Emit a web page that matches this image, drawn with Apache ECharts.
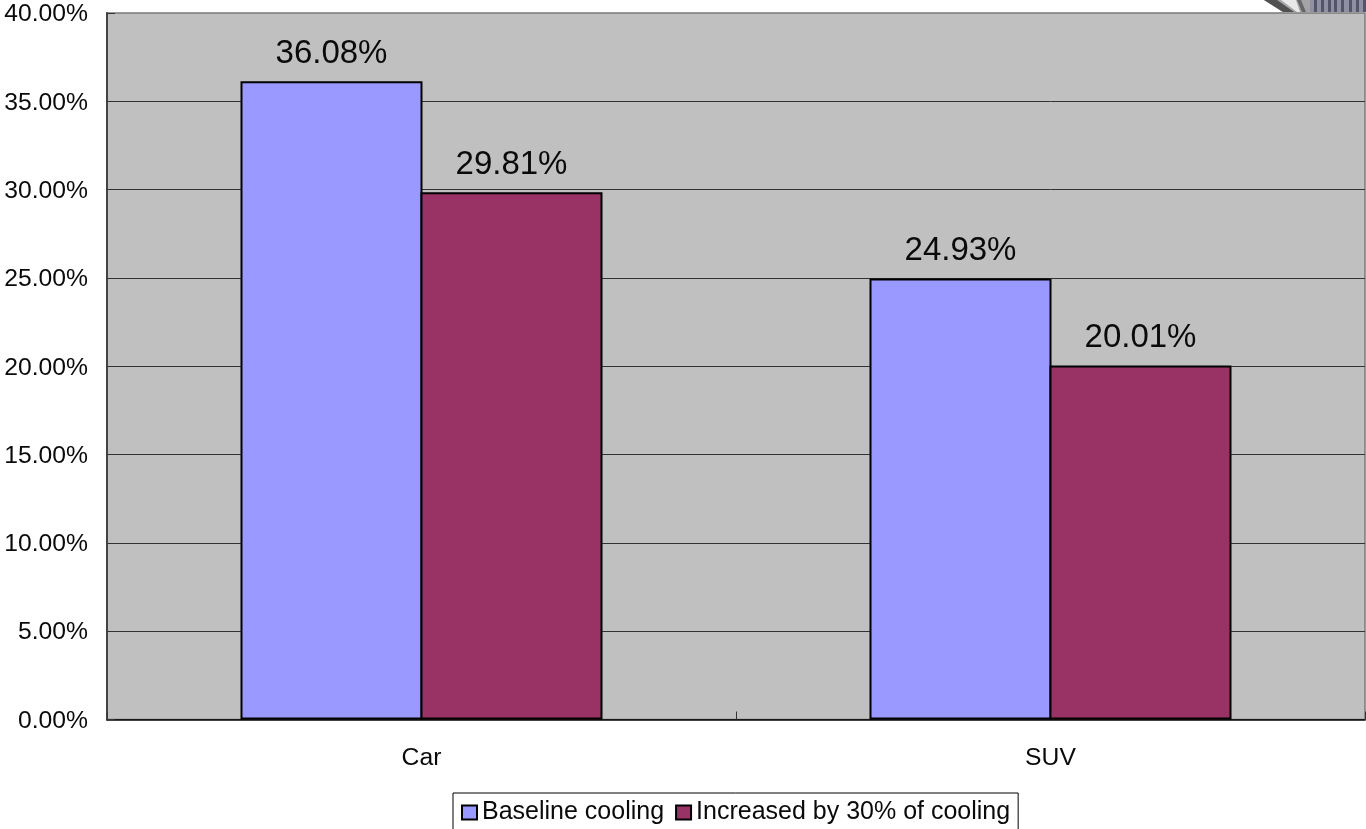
<!DOCTYPE html>
<html>
<head>
<meta charset="utf-8">
<style>html,body{margin:0;padding:0;background:#fff;overflow:hidden}#c{width:1366px;height:829px}</style>
<script src="https://cdn.jsdelivr.net/npm/echarts@6/dist/echarts.min.js"></script>
</head>
<body>
<div id="c"></div>
<script>
const categories = ['Car', 'SUV'];
const baseline = [36.08, 24.93];
const increased = [29.81, 20.01];
const seriesNames = ['Baseline cooling', 'Increased by 30% of cooling'];
const font = '"Liberation Sans", Arial, sans-serif';
const ink = '#0a0a0a';

const chart = echarts.init(document.getElementById('c'), null, { renderer: 'canvas' });

function barSeries(name, data, color) {
  return {
    name, type: 'bar', data, xAxisIndex: 1, yAxisIndex: 1,
    barWidth: 182, barGap: '-1.1%',
    itemStyle: { color, borderColor: '#000', borderWidth: 2 },
    label: {
      show: true, position: 'top', distance: 11,
      fontFamily: font, fontSize: 33, color: ink,
      formatter: p => p.value.toFixed(2) + '%'
    }
  };
}

// Clipart fragment poking in at the top right corner
const stripes = [1314, 1321, 1328, 1334, 1341, 1349, 1356, 1363].map(x => ({
  type: 'rect', shape: { x, y: 0, width: 3, height: 12 }, style: { fill: '#55556a' }
}));

chart.setOption({
  animation: false,
  backgroundColor: '#fff',
  // The second grid carries the bars; ECharts insets a bordered bar by half its
  // stroke, so this one reaches half a stroke past the visible plot area.
  grid: [
    { left: 107, right: 1, top: 13, height: 706.5,
      show: true, backgroundColor: '#c0c0c0', borderColor: '#7a7a7a', borderWidth: 1.5 },
    { left: 107, right: 1, top: 12, height: 707.5 }
  ],
  legend: {
    left: 453, top: 793,
    padding: [7, 8, 30, 8],
    backgroundColor: '#fff', borderColor: '#000', borderWidth: 1, borderRadius: 0,
    icon: 'rect',
    itemWidth: 15, itemHeight: 14, itemGap: 11,
    itemStyle: { borderColor: '#000', borderWidth: 2 },
    textStyle: { fontFamily: font, fontSize: 25, color: ink },
    data: seriesNames
  },
  xAxis: [
    { type: 'category', data: categories, gridIndex: 0,
      axisLine: { lineStyle: { color: '#111', width: 1.5 } },
      axisTick: { show: true, inside: true, length: 8, alignWithLabel: false, lineStyle: { color: '#333' } },
      axisLabel: { fontFamily: font, fontSize: 24.7, color: ink, margin: 26 } },
    { type: 'category', data: categories, gridIndex: 1, show: false }
  ],
  yAxis: [
    { type: 'value', min: 0, max: 40, interval: 5, gridIndex: 0,
      axisLine: { show: true, lineStyle: { color: '#444', width: 2 } },
      axisTick: { show: true, inside: true, length: 8, lineStyle: { color: '#333' } },
      axisLabel: { fontFamily: font, fontSize: 24.7, color: ink, margin: 19,
        verticalAlign: 'top', lineHeight: 3, formatter: v => v.toFixed(2) + '%' },
      splitLine: { show: true, showMaxLine: false, lineStyle: { color: '#333', width: 1 } } },
    { type: 'value', min: 0, max: 40, interval: 5, gridIndex: 1, show: false, splitLine: { show: false } }
  ],
  series: [
    barSeries(seriesNames[0], baseline, '#9999ff'),
    barSeries(seriesNames[1], increased, '#993366')
  ],
  graphic: { elements: [
    { type: 'polygon', shape: { points: [[1264,0],[1316,0],[1316,12],[1283,12]] }, style: { fill: '#a4a4a8' } },
    { type: 'polygon', shape: { points: [[1264,0],[1277,0],[1294,12],[1283,12]] }, style: { fill: '#505050' } },
    { type: 'polygon', shape: { points: [[1281,0],[1296,0],[1300,12],[1297,12]] }, style: { fill: '#e8e8e8' } },
    { type: 'polygon', shape: { points: [[1297,0],[1301,0],[1306,12],[1302,12]] }, style: { fill: '#666' } },
    { type: 'rect', shape: { x: 1310, y: 0, width: 56, height: 12 }, style: { fill: '#9090a2' } },
    ...stripes
  ] }
});
</script>
</body>
</html>
